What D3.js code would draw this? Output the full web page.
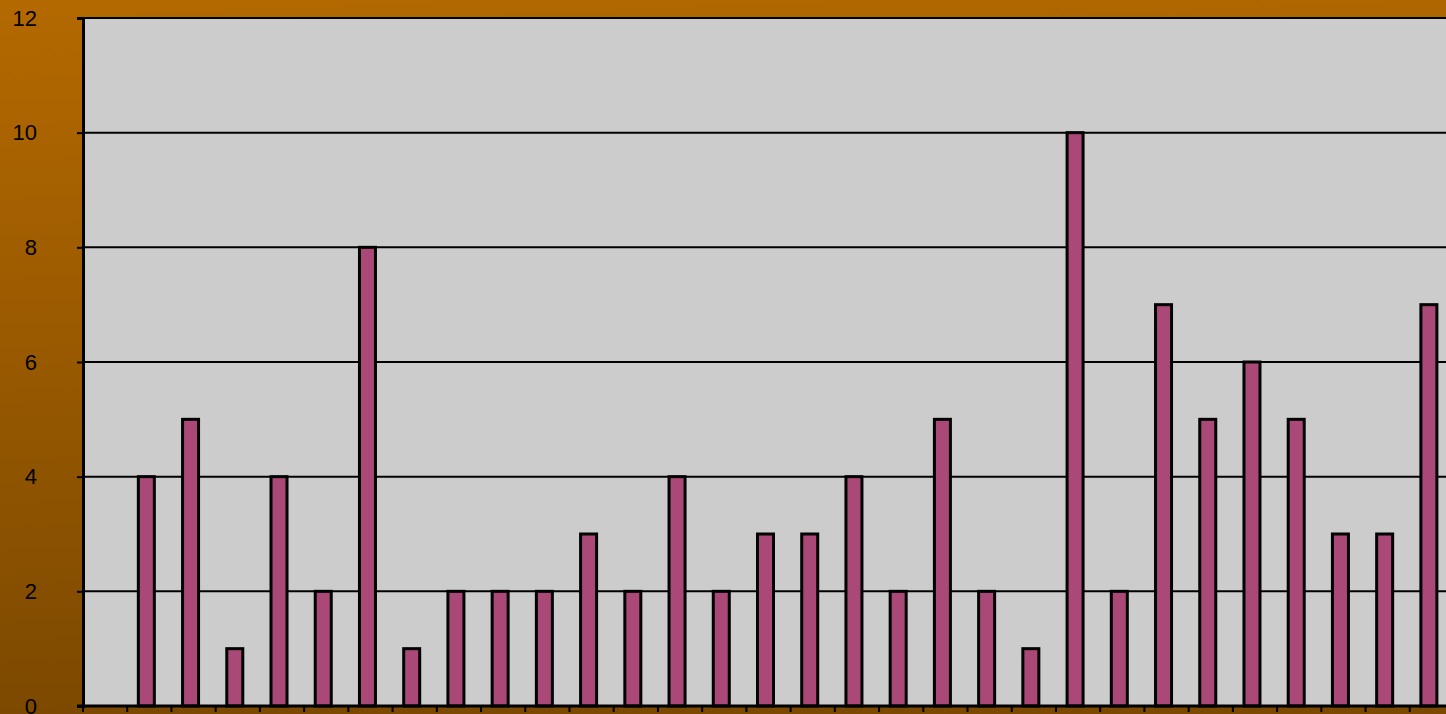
<!DOCTYPE html>
<html>
<head>
<meta charset="utf-8">
<script src="https://cdn.jsdelivr.net/npm/d3@7"></script>
<style>
  html, body { margin: 0; padding: 0; overflow: hidden; }
  svg { display: block; }
</style>
</head>
<body>
<div id="chart"></div>
<script>
// categories (no labels visible in the picture) and counts
const categories = d3.range(1, 32).map(String);
const values = [0, 4, 5, 1, 4, 2, 8, 1, 2, 2, 2, 3, 2, 4, 2, 3, 3, 4, 2, 5, 2, 1, 10, 2, 7, 5, 6, 5, 3, 3, 7];
const yTicks = [0, 2, 4, 6, 8, 10, 12];

const W = 1446, H = 714;
const margin = { left: 83, top: 18, bottom: 8 };
const plotW = 1371; // chart runs a little past the right edge
const plotH = H - margin.top - margin.bottom;

const svg = d3.select("#chart").append("svg")
  .attr("width", W)
  .attr("height", H);

// brown gradient background
const defs = svg.append("defs");
const grad = defs.append("linearGradient").attr("id", "bg")
  .attr("x1", 0).attr("y1", 0).attr("x2", 0.08).attr("y2", 1);
grad.append("stop").attr("offset", "0%").attr("stop-color", "#b46900");
grad.append("stop").attr("offset", "100%").attr("stop-color", "#7c4900");
svg.append("rect").attr("width", W).attr("height", H).attr("fill", "url(#bg)");

const x = d3.scaleBand().domain(categories).range([0, plotW]);
const y = d3.scaleLinear().domain([0, 12]).range([plotH, 0]);

const g = svg.append("g").attr("transform", `translate(${margin.left},${margin.top})`);

// plot area
g.append("rect").attr("width", plotW).attr("height", plotH).attr("fill", "#cccccc");

// gridlines
g.selectAll("line.grid")
  .data(yTicks)
  .enter().append("line")
  .attr("class", "grid")
  .attr("x1", 0).attr("x2", plotW)
  .attr("y1", d => y(d)).attr("y2", d => y(d))
  .attr("stroke", "#000").attr("stroke-width", 2);

// bars
const barW = 16;
g.selectAll("rect.bar")
  .data(values.map((v, i) => ({ c: categories[i], v })).filter(d => d.v > 0))
  .enter().append("rect")
  .attr("class", "bar")
  .attr("x", d => x(d.c) + x.bandwidth() / 2 - barW / 2 - 3)
  .attr("y", d => y(d.v))
  .attr("width", barW)
  .attr("height", d => plotH - y(d.v))
  .attr("fill", "#aa4878")
  .attr("stroke", "#000")
  .attr("stroke-width", 3);

// y axis
const yAxis = g.append("g")
  .call(d3.axisLeft(y).tickValues(yTicks).tickSize(6).tickPadding(40));
yAxis.select(".domain").attr("stroke", "#000").attr("stroke-width", 3);
yAxis.selectAll(".tick line").attr("stroke", "#000").attr("stroke-width", 2);
yAxis.selectAll(".tick text")
  .style("font-family", "Liberation Sans, Arial, sans-serif")
  .style("font-size", "22px")
  .attr("fill", "#000");

// x axis: ticks at category boundaries, no labels
g.append("line")
  .attr("x1", -6).attr("x2", plotW)
  .attr("y1", plotH).attr("y2", plotH)
  .attr("stroke", "#000").attr("stroke-width", 3);
g.selectAll("line.xtick")
  .data(categories)
  .enter().append("line")
  .attr("class", "xtick")
  .attr("x1", d => x(d)).attr("x2", d => x(d))
  .attr("y1", plotH).attr("y2", plotH + 6)
  .attr("stroke", "#000").attr("stroke-width", 2);
</script>
</body>
</html>
